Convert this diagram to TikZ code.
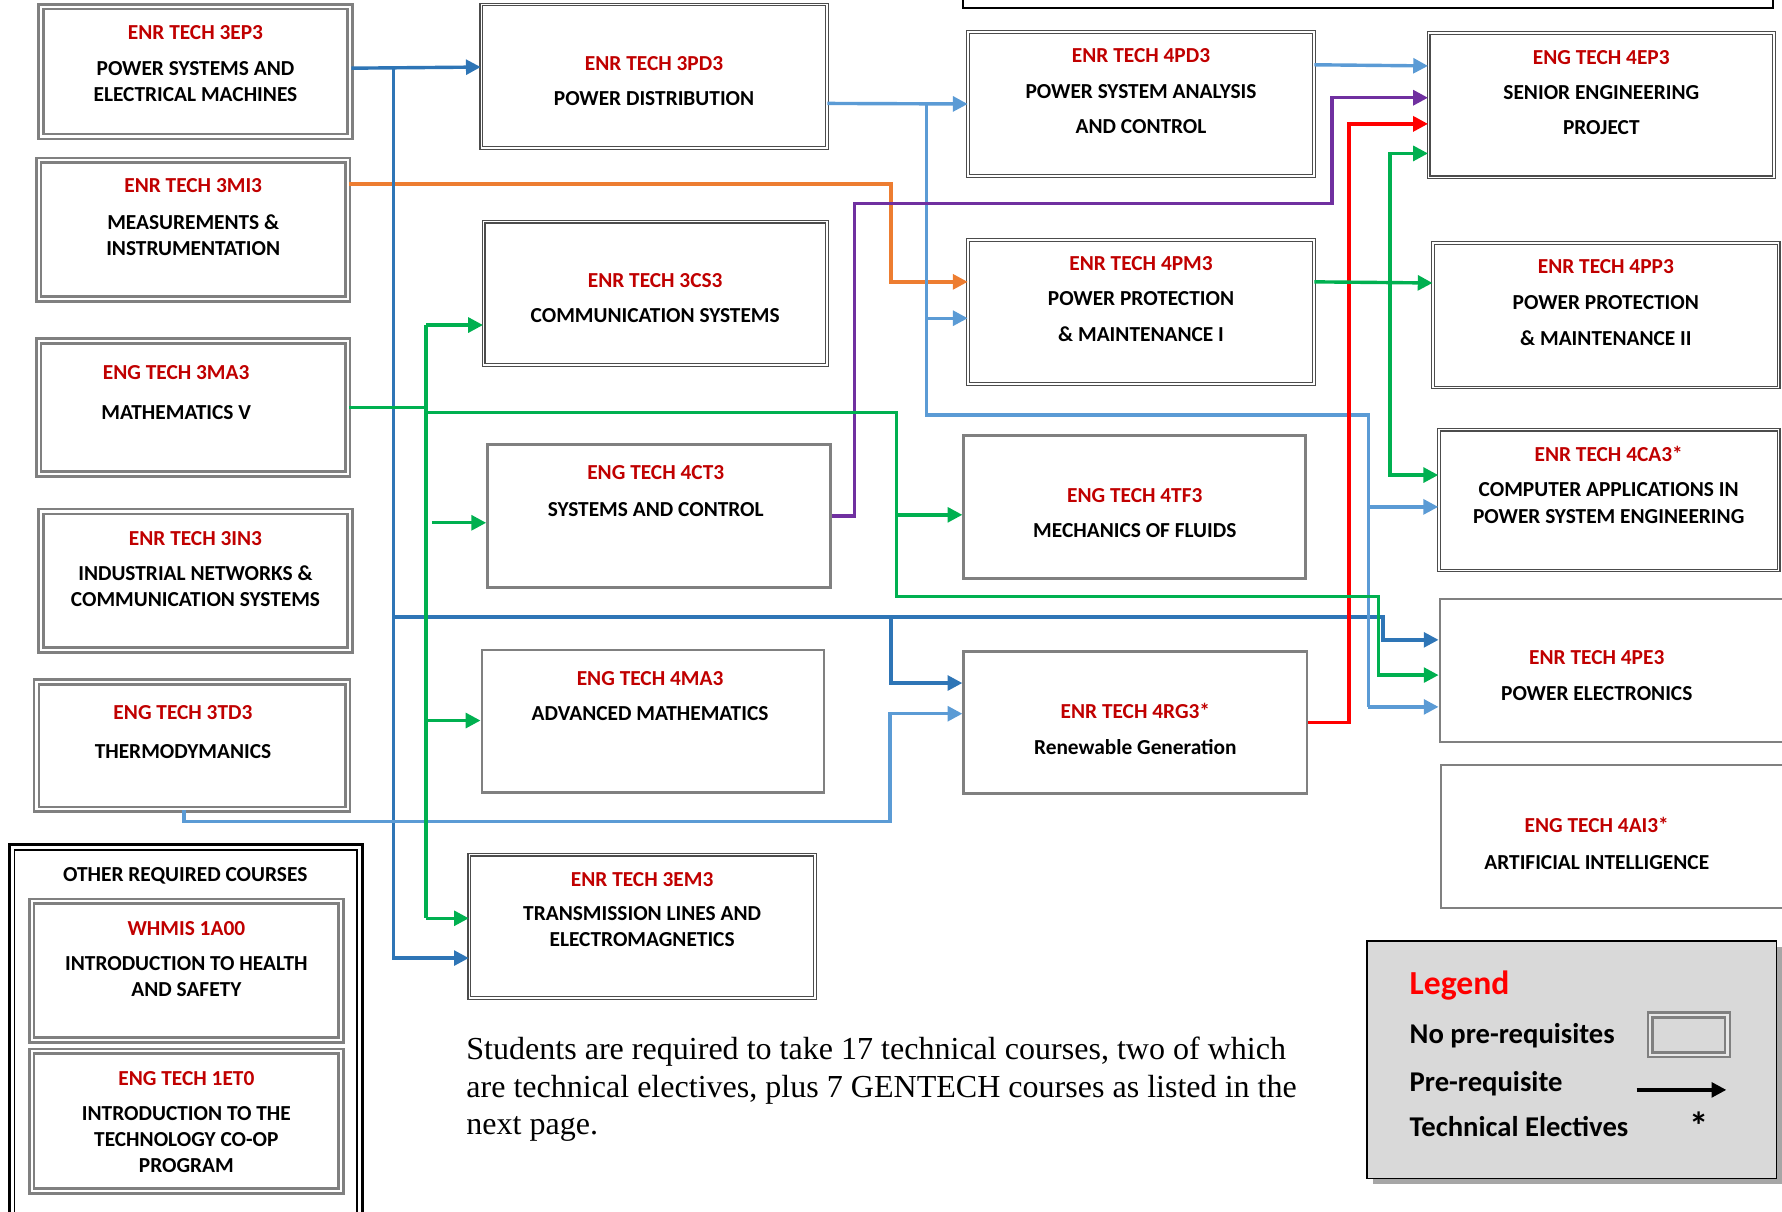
\documentclass[tikz,border=0pt]{standalone}
\usepackage{fontspec}
\setmainfont{Carlito}
\newfontfamily\serif{Liberation Serif}
\usetikzlibrary{arrows.meta}
\definecolor{dblue}{RGB}{46,117,182}
\definecolor{lblue}{RGB}{91,155,213}
\definecolor{grn}{RGB}{0,176,80}
\definecolor{orng}{RGB}{237,125,49}
\definecolor{purp}{RGB}{112,48,160}
\definecolor{codered}{RGB}{192,0,0}
\definecolor{legfill}{RGB}{217,217,217}
\newcommand{\cc}[1]{\textcolor{codered}{#1}}
\tikzset{
  noprebox/.style={draw=black!50, double=white, line width=1.1pt, double distance=1pt},
  dblbox/.style={draw=black!70, double=white, line width=0.5pt, double distance=0.7pt},
  graybox/.style={draw=black!50, line width=1.2pt},
  crs/.style={anchor=north, align=center, inner sep=0pt, font=\fontsize{9.4}{11.5}\selectfont\bfseries},
  wire/.style={line width=1.5pt, -{Triangle[length=6.5pt,width=6.5pt]}},
  legtxt/.style={anchor=base west, inner sep=0pt, font=\fontsize{12.6}{15}\selectfont\bfseries}
}

\begin{document}
\begin{tikzpicture}[x=0.5pt, y=-0.5pt]
\useasboundingbox (0,0) rectangle (1568,1066);

\node[noprebox, minimum width=136pt, minimum height=57pt] (ep3) at (172,63) {};
\node[crs] (ep3t) at (172,22) {\cc{ENR TECH 3EP3}\\[4.5pt] POWER SYSTEMS AND\\ ELECTRICAL MACHINES};
\node[noprebox, minimum width=136pt, minimum height=61pt] (mi3) at (170,202) {};
\node[crs] (mi3t) at (170,157) {\cc{ENR TECH 3MI3}\\[4.5pt] MEASUREMENTS \&\\ INSTRUMENTATION};
\node[noprebox, minimum width=136pt, minimum height=58.5pt] (ma3) at (170,358.5) {};
\node[crs] (ma3t) at (155,321) {\cc{ENG TECH 3MA3}\\[6pt] MATHEMATICS V};
\node[noprebox, minimum width=136pt, minimum height=61pt] (in3) at (172,511) {};
\node[crs] (in3t) at (172,467) {\cc{ENR TECH 3IN3}\\[4pt] INDUSTRIAL NETWORKS \&\\ COMMUNICATION SYSTEMS};
\node[noprebox, minimum width=137pt, minimum height=56pt] (td3) at (169,656) {};
\node[crs] (td3t) at (161,620) {\cc{ENG TECH 3TD3}\\[6pt] THERMODYMANICS};

\draw[line width=1.4pt] (8,743) rectangle (319,1090);
\draw[line width=0.6pt] (13,748) rectangle (314,1090);
\node[crs] (otht) at (163,763) {OTHER REQUIRED COURSES};
\node[noprebox, minimum width=136pt, minimum height=61pt] (wh) at (164,854) {};
\node[crs] (wht) at (164,810) {\cc{WHMIS 1A00}\\[4pt] INTRODUCTION TO HEALTH\\ AND SAFETY};
\node[noprebox, minimum width=136pt, minimum height=61.5pt] (et0) at (164,986.5) {};
\node[crs] (et0t) at (164,942) {\cc{ENG TECH 1ET0}\\[4pt] INTRODUCTION TO THE\\ TECHNOLOGY CO-OP\\ PROGRAM};

\node[dblbox, minimum width=152pt, minimum height=63pt] (pd3) at (575.5,67) {};
\node[crs] (pd3t) at (575.5,49) {\cc{ENR TECH 3PD3}\\[4pt] POWER DISTRIBUTION};
\node[dblbox, minimum width=151pt, minimum height=63pt] (cs3) at (576.5,258) {};
\node[crs] (cs3t) at (576.5,240) {\cc{ENR TECH 3CS3}\\[4pt] COMMUNICATION SYSTEMS};
\node[graybox, minimum width=151pt, minimum height=63pt] (ct3) at (580,454) {};
\node[crs] (ct3t) at (577,409) {\cc{ENG TECH 4CT3}\\[5pt] SYSTEMS AND CONTROL};
\node[graybox, minimum width=150.5pt, minimum height=62.5pt] (ma4) at (574.5,634.5) {};
\node[crs] (ma4t) at (572,590) {\cc{ENG TECH 4MA3}\\[4pt] ADVANCED MATHEMATICS};
\node[dblbox, minimum width=152pt, minimum height=63pt] (em3) at (565,815) {};
\node[crs] (em3t) at (565,767) {\cc{ENR TECH 3EM3}\\[3.5pt] TRANSMISSION LINES AND\\ ELECTROMAGNETICS};

\node[dblbox, minimum width=152pt, minimum height=63.5pt] (pd4) at (1004,91.5) {};
\node[crs] (pd4t) at (1004,42) {\cc{ENR TECH 4PD3}\\[4.5pt] POWER SYSTEM ANALYSIS\\[4pt] AND CONTROL};
\node[dblbox, minimum width=152pt, minimum height=63.5pt] (pm3) at (1004,274.5) {};
\node[crs] (pm3t) at (1004,225) {\cc{ENR TECH 4PM3}\\[4pt] POWER PROTECTION\\[4.5pt] \& MAINTENANCE I};
\node[graybox, minimum width=150.5pt, minimum height=63pt] (tf3) at (998.5,446) {};
\node[crs] (tf3t) at (998.5,429) {\cc{ENG TECH 4TF3}\\[4pt] MECHANICS OF FLUIDS};
\node[graybox, minimum width=151pt, minimum height=62.5pt] (rg3) at (999,635.5) {};
\node[crs] (rg3t) at (999,618) {\cc{ENR TECH 4RG3*}\\[4.5pt] Renewable Generation};

\node[dblbox, minimum width=152pt, minimum height=63.5pt] (ep4) at (1409,92.5) {};
\node[crs] (ep4t) at (1409,44) {\cc{ENG TECH 4EP3}\\[4pt] SENIOR ENGINEERING\\[4pt] PROJECT};
\node[dblbox, minimum width=152pt, minimum height=63.5pt] (pp3) at (1413,277.5) {};
\node[crs] (pp3t) at (1413,228) {\cc{ENR TECH 4PP3}\\[4.5pt] POWER PROTECTION\\[4pt] \& MAINTENANCE II};
\node[dblbox, minimum width=149.5pt, minimum height=62pt] (ca3) at (1415.5,440) {};
\node[crs] (ca3t) at (1415.5,392) {\cc{ENR TECH 4CA3*}\\[4pt] COMPUTER APPLICATIONS IN\\[0.5pt] POWER SYSTEM ENGINEERING};
\node[graybox, minimum width=156.5pt, minimum height=63pt] (pe3) at (1423.5,590) {};
\node[crs] (pe3t) at (1405,572) {\cc{ENR TECH 4PE3}\\[4.5pt] POWER ELECTRONICS};
\node[graybox, minimum width=156pt, minimum height=63pt] (ai3) at (1424,736) {};
\node[crs] (ai3t) at (1405,719) {\cc{ENG TECH 4AI3*}\\[4.5pt] ARTIFICIAL INTELLIGENCE};

\draw[line width=0.8pt] (847,-10) rectangle (1560,7);

\draw[wire, orng] (mi3.east |- 0,162) -| (784,248) -- (pm3.west |- 0,248);
\draw[wire, dblue] (ep3.east |- 0,60) -- (pd3.west |- 0,59);
\draw[wire, dblue] (346,60) |- (em3.west |- 0,843);
\draw[wire, dblue] (346,543) -| (1217,563) -- (pe3.west |- 0,563);
\draw[wire, dblue] (784,543) |- (rg3.west |- 0,601);
\draw[wire, lblue] (pd3.east |- 0,91) -- (pd4.west);
\draw[wire, lblue] (pd4.east |- 0,57) -- (ep4.west |- 0,58);
\draw[line width=1.5pt, lblue] (815,91) |- (1204,365) -- (1204,622);
\draw[wire, lblue] (815,280) -- (pm3.west |- 0,280);
\draw[wire, lblue] (1204,446) -- (ca3.west |- 0,446);
\draw[wire, lblue] (1204,622) -- (pe3.west |- 0,622);
\draw[wire, lblue] (td3.south -| 162,0) -- (162,723) -| (783,628) -- (rg3.west |- 0,628);
\draw[wire, purp] (ct3.east) -| (752,179) -| (1172,86) -- (ep4.west |- 0,86);
\draw[wire, red] (rg3.east) -| (1187,109) -- (ep4.west |- 0,109);
\draw[line width=1.5pt, grn] (ma3.east) -- (ma3.east -| 375,0);
\draw[line width=1.5pt, grn] (375,286) -- (375,808);
\draw[wire, grn] (375,286) -- (cs3.west |- 0,286);
\draw[wire, grn] (380,460) -- (ct3.west |- 0,460);
\draw[wire, grn] (375,634) -- (ma4.west |- 0,634);
\draw[wire, grn] (375,808) -- (em3.west |- 0,808);
\draw[wire, grn] (375,363) -| (789,525) -| (1213,594) -- (pe3.west |- 0,594);
\draw[wire, grn] (789,453) -- (tf3.west |- 0,453);
\draw[wire, grn] (pm3.east |- 0,248) -- (pp3.west |- 0,249);
\draw[wire, grn] (1223,248) |- (ep4.west |- 0,135);
\draw[wire, grn] (1223,248) |- (ca3.west |- 0,418);

\node[anchor=north west, inner sep=0pt, align=left, font=\serif\fontsize{14.1}{16.5}\selectfont] (note) at (410,912) {Students are required to take 17 technical courses, two of which\\ are technical electives, plus 7 GENTECH courses as listed in the\\ next page.};

\fill[black!35] (1208,833) rectangle (1568,1042);
\node[draw, fill=legfill, line width=0.7pt, minimum width=180pt, minimum height=104.5pt] (leg) at (1383,932.5) {};
\node[legtxt, font=\fontsize{14.8}{17}\selectfont\bfseries, text=red] (legt) at (1240,875) {Legend};
\node[legtxt] (lega) at (1240,918) {No pre-requisites};
\node[legtxt] (legb) at (1240,960) {Pre-requisite};
\node[legtxt] (legc) at (1240,1000) {Technical Electives};
\node[noprebox, double=legfill!60, minimum width=34pt, minimum height=17.5pt] (legbox) at (1486,910.5) {};
\coordinate (legs) at (1440,959);
\coordinate (lege) at (1519,959);
\draw[wire, black] (legs) -- (lege);
\node[legtxt, anchor=base, font=\fontsize{17}{20}\selectfont\bfseries] (legstar) at (1495,1003) {*};
\end{tikzpicture}
\end{document}
